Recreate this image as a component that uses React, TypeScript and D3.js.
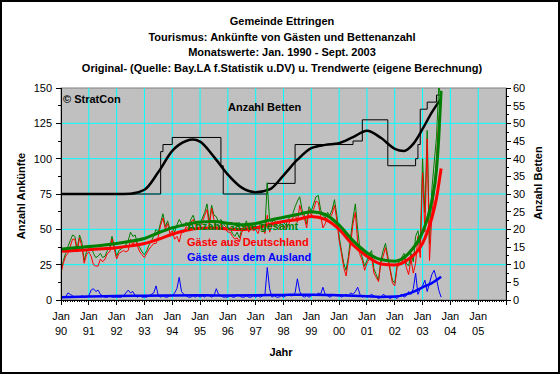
import React from "react";
import * as d3 from "d3";

// months counted from Jan 1990 (= 0), data up to Sept 2003 (= 164)
const gesamt = [
  20, 28, 33, 38, 42, 46, 45, 36, 46, 41, 28, 34,
  37, 38, 33, 30, 31, 33, 30, 31, 35, 37, 45, 38,
  31, 35, 36, 38, 39, 42, 48, 45, 46, 40, 37, 34,
  32, 35, 39, 42, 45, 50, 48, 55, 61, 52, 56, 50,
  52, 48, 53, 57, 54, 52, 55, 52, 57, 60, 55, 53,
  54, 58, 62, 68, 55, 67, 60, 59, 55, 57, 54, 52,
  50, 51, 47, 45, 48, 44, 50, 52, 56, 50, 54, 52,
  52, 50, 54, 53, 51, 83, 56, 55, 57, 53, 52, 55,
  55, 53, 57, 59, 61, 66, 70, 73, 64, 60, 54, 66,
  63, 68, 73, 74, 64, 60, 58, 62, 60, 64, 71, 60,
  45, 35, 26, 21, 31, 45, 58, 68, 50, 36, 30, 24,
  28, 32, 35, 22, 18, 14, 28, 35, 40, 31, 22, 14,
  12, 24, 28, 30, 33, 26, 24, 33, 27, 45, 49, 38,
  100, 62, 120, 40, 78, 97, 115, 152, 143,
];

const deutschland = [
  19, 26, 31, 33, 38, 43, 43, 34, 44, 38, 26, 32,
  34, 31, 25, 24, 24, 29, 27, 29, 33, 34, 43, 36,
  29, 33, 34, 35, 34, 35, 43, 39, 43, 38, 34, 32,
  30, 33, 36, 38, 40, 40, 45, 53, 58, 50, 54, 47,
  49, 43, 45, 41, 48, 48, 52, 50, 55, 57, 53, 50,
  52, 55, 60, 64, 52, 65, 57, 51, 51, 54, 52, 50,
  48, 48, 45, 43, 44, 41, 48, 50, 53, 48, 52, 49,
  50, 47, 52, 50, 47, 60, 48, 53, 54, 51, 50, 52,
  53, 50, 53, 56, 58, 61, 55, 67, 61, 58, 51, 64,
  60, 64, 70, 69, 60, 51, 54, 59, 58, 61, 67, 57,
  42, 33, 23, 17, 28, 40, 54, 62, 41, 32, 28, 21,
  26, 29, 31, 19, 16, 13, 26, 31, 37, 29, 21, 12,
  10, 23, 25, 26, 31, 23, 18, 29, 19, 26, 45, 30,
  90, 48, 114, 28, 60, 76, 100, 128, 138,
];

const ausland = [
  1, 2, 2, 5, 4, 3, 2, 2, 2, 3, 2, 2,
  3, 7, 8, 6, 7, 4, 3, 2, 2, 3, 2, 2,
  2, 2, 2, 3, 5, 7, 5, 6, 3, 2, 3, 2,
  2, 2, 3, 4, 5, 10, 3, 2, 3, 2, 2, 3,
  3, 5, 8, 16, 6, 4, 3, 2, 2, 3, 2, 3,
  2, 3, 2, 4, 3, 2, 3, 8, 4, 3, 2, 2,
  2, 3, 2, 2, 4, 3, 2, 2, 3, 2, 2, 3,
  2, 3, 2, 3, 4, 23, 8, 2, 3, 2, 2, 3,
  2, 3, 4, 3, 3, 5, 15, 6, 3, 2, 3, 2,
  3, 4, 3, 5, 4, 9, 4, 3, 2, 3, 4, 3,
  3, 2, 3, 4, 3, 5, 4, 6, 9, 4, 2, 3,
  2, 3, 4, 3, 2, 1, 2, 4, 3, 2, 1, 2,
  2, 1, 3, 4, 2, 3, 6, 4, 8, 19, 4, 8,
  10, 14, 6, 12, 18, 21, 15, 7, 2,
];

// Betten: [month, value] where the bed count changes
const betten: [number, number][] = [
  [0, 30], [43, 42], [44, 44], [48, 46], [69, 38], [70, 30], [89, 33],
  [101, 44], [126, 45], [130, 51], [141, 38], [153, 40], [154, 44],
  [155, 54], [158, 56], [162, 58], [164, 58],
];

// trend values [month, value]
const trendGesamt: [number, number][] = [
  [0, 36], [6, 37], [12, 37.8], [18, 38.8], [24, 40], [30, 41.5], [36, 43.5],
  [42, 47.5], [48, 51], [54, 53.5], [60, 55.2], [66, 55.5], [72, 54.3],
  [78, 53.3], [84, 54.2], [90, 56.5], [96, 58.5], [102, 60.5], [108, 62.5],
  [114, 60.5], [120, 53], [126, 42], [132, 33.5], [138, 28.6], [144, 27.5],
  [150, 33], [156, 48], [158, 57], [160, 70], [162, 92], [163, 115], [164, 148],
];
const trendDeutschland: [number, number][] = [
  [0, 34.5], [6, 35], [12, 35.5], [18, 36.2], [24, 37], [30, 38.3], [36, 40],
  [42, 43], [48, 46.5], [54, 49.3], [60, 50.8], [66, 51], [72, 50.2],
  [78, 49.8], [84, 51], [90, 53.5], [96, 55.5], [102, 57], [108, 59],
  [114, 57], [120, 50], [126, 39], [132, 31], [138, 25.5], [144, 24.8],
  [150, 29], [156, 40], [158, 48], [160, 58], [162, 72], [163, 82], [164, 93],
];
const trendAusland: [number, number][] = [
  [0, 2], [12, 2.5], [24, 2.8], [36, 3], [48, 3.2], [60, 3.3], [72, 3.2],
  [84, 3.3], [96, 3.6], [108, 3.8], [120, 3.3], [132, 2.6], [138, 2.2],
  [144, 2.4], [150, 4.5], [156, 9], [160, 12], [164, 16.5],
];
const trendBetten: [number, number][] = [
  [0, 30], [12, 30], [24, 30], [30, 30.1], [36, 31.2], [42, 36.2], [48, 42.2],
  [54, 45], [57, 45.4], [60, 44.8], [66, 40.5], [72, 35.5], [78, 31.8],
  [84, 30.5], [90, 31.3], [96, 35.3], [102, 39.7], [108, 43], [114, 43.9],
  [120, 44.4], [126, 46.1], [132, 47.9], [138, 45.9], [144, 42.8],
  [148, 42.2], [152, 44.2], [156, 48.4], [160, 53.1], [164, 57],
];

const yearLabels = ["90", "91", "92", "93", "94", "95", "96", "97", "98", "99", "00", "01", "02", "03", "04", "05"];
const leftTicks = [0, 25, 50, 75, 100, 125, 150];
const rightTicks = [0, 5, 10, 15, 20, 25, 30, 35, 40, 45, 50, 55, 60];
const titleLines = [
  "Gemeinde Ettringen",
  "Tourismus: Ankünfte von Gästen und Bettenanzahl",
  "Monatswerte: Jan. 1990 - Sept. 2003",
  "Original- (Quelle: Bay.LA f.Statistik u.DV) u. Trendwerte (eigene Berechnung)",
];

const W = 560;
const H = 374;
const L = 61, R = 506, T = 88, B = 300;
const FONT = "'Liberation Sans', Arial, sans-serif";

export default function App() {
  const x = d3.scaleLinear().domain([0, 192]).range([L, R]);
  const yL = d3.scaleLinear().domain([0, 150]).range([B, T]);
  const yR = d3.scaleLinear().domain([0, 60]).range([B, T]);

  const monthly = d3.line<number>().x((_, i) => x(i)).y((d) => yL(d));
  const trendL = d3.line<[number, number]>().x((d) => x(d[0])).y((d) => yL(d[1])).curve(d3.curveMonotoneX);
  const trendR = d3.line<[number, number]>().x((d) => x(d[0])).y((d) => yR(d[1])).curve(d3.curveMonotoneX);
  const stepR = d3.line<[number, number]>().x((d) => x(d[0])).y((d) => yR(d[1])).curve(d3.curveStepAfter);

  const years = d3.range(0, 193, 12);
  const months = d3.range(0, 193, 1);

  return (
    <svg width={W} height={H} style={{ position: "absolute", left: 0, top: 0 }} fontFamily={FONT}>
      <rect x={0} y={0} width={W} height={H} fill="#fff" />
      <rect x={1} y={1} width={W - 2} height={H - 2} fill="none" stroke="#000" strokeWidth={2} />

      {titleLines.map((t, i) => (
        <text key={t} x={282} y={25 + i * 15.6} textAnchor="middle" fontSize={11} fontWeight="bold">
          {t}
        </text>
      ))}

      <defs>
        <clipPath id="plot">
          <rect x={L} y={T} width={R - L} height={B - T} />
        </clipPath>
      </defs>
      <rect x={L} y={T} width={R - L} height={B - T} fill="#c0c0c0" stroke="#808080" />

      {/* grid */}
      {years.slice(1, -1).map((m) => (
        <line key={"gx" + m} x1={x(m)} x2={x(m)} y1={T} y2={B} stroke="#00ffff" />
      ))}
      {leftTicks.slice(1, -1).map((v) => (
        <line key={"gy" + v} x1={L} x2={R} y1={yL(v)} y2={yL(v)} stroke="#00ffff" />
      ))}

      <g clipPath="url(#plot)" fill="none">
        <path d={stepR(betten) || ""} stroke="#000" strokeWidth={1} />
        <path d={trendR(trendBetten) || ""} stroke="#000" strokeWidth={2.5} />
        <path d={monthly(gesamt) || ""} stroke="#008000" strokeWidth={1} />
        <path d={monthly(deutschland) || ""} stroke="#ff0000" strokeWidth={1} />
        <path d={monthly(ausland) || ""} stroke="#0000ff" strokeWidth={1} />
        <path d={trendL(trendDeutschland) || ""} stroke="#ff0000" strokeWidth={3} />
        <path d={trendL(trendGesamt) || ""} stroke="#008000" strokeWidth={3} />
        <path d={trendL(trendAusland) || ""} stroke="#0000ff" strokeWidth={2.5} />
      </g>

      {/* axes */}
      <g stroke="#000" shapeRendering="crispEdges">
        <line x1={L} x2={L} y1={T} y2={B} />
        <line x1={R} x2={R} y1={T} y2={B} />
        <line x1={L} x2={R} y1={B} y2={B} />
        {d3.range(0, 151, 12.5).map((v) => (
          <line key={"lt" + v} x1={L - (v % 25 === 0 ? 5 : 3)} x2={L} y1={yL(v)} y2={yL(v)} />
        ))}
        {d3.range(0, 61, 2.5).map((v) => (
          <line key={"rt" + v} x1={R} x2={R + (v % 5 === 0 ? 5 : 3)} y1={yR(v)} y2={yR(v)} />
        ))}
        {months.map((m) => (
          <line key={"xt" + m} x1={x(m)} x2={x(m)} y1={B} y2={B + (m % 12 === 0 ? 5 : 2)} />
        ))}
      </g>

      <g fontSize={11}>
        {leftTicks.map((v) => (
          <text key={"ll" + v} x={L - 9} y={yL(v) + 4} textAnchor="end">{v}</text>
        ))}
        {rightTicks.map((v) => (
          <text key={"rl" + v} x={R + 7} y={yR(v) + 4}>{v}</text>
        ))}
        {yearLabels.map((yl, i) => (
          <g key={"xl" + yl}>
            <text x={x(i * 12)} y={320} textAnchor="middle">Jan</text>
            <text x={x(i * 12)} y={335} textAnchor="middle">{yl}</text>
          </g>
        ))}
      </g>

      <g fontSize={11} fontWeight="bold">
        <text x={281} y={356} textAnchor="middle">Jahr</text>
        <text transform="translate(25,196) rotate(-90)" textAnchor="middle">Anzahl Ankünfte</text>
        <text transform="translate(542,183) rotate(-90)" textAnchor="middle">Anzahl Betten</text>
        <text x={63} y={103}>© StratCon</text>
        <text x={228} y={111}>Anzahl Betten</text>
        <text x={187} y={230} fill="#008000">Anzahl Gäste gesamt</text>
        <text x={187} y={246} fill="#ff0000">Gäste aus Deutschland</text>
        <text x={187} y={261} fill="#0000ff">Gäste aus dem Ausland</text>
      </g>
    </svg>
  );
}
